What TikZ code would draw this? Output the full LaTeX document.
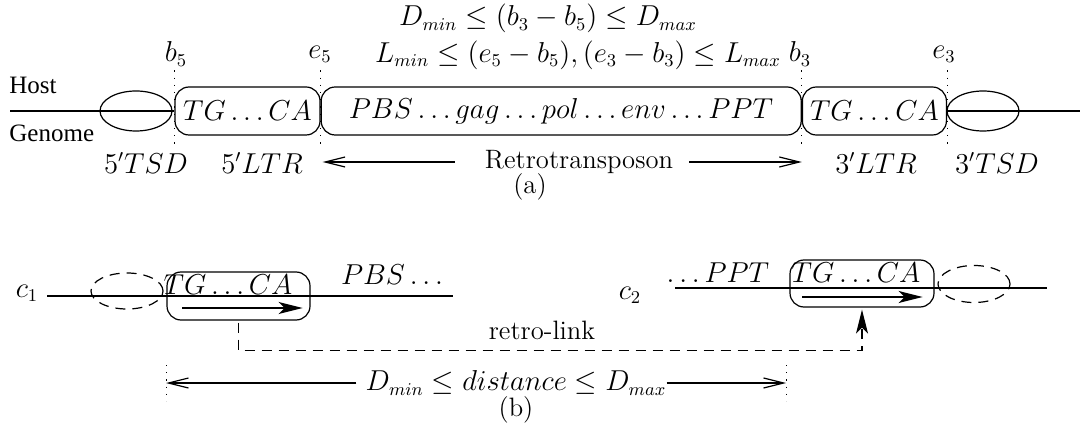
\documentclass[tikz,border=0pt]{standalone}
\usepackage{fontspec}
\usepackage{amsmath}
\usepackage{tikz}
\usetikzlibrary{arrows.meta,positioning,shapes.geometric}
\newfontfamily\hostfont{Liberation Serif}

\begin{document}
\begin{tikzpicture}[
x=0.5pt, y=-0.5pt,
every node/.style={font=\fontsize{13.3}{16}\selectfont, inner sep=1pt},
ltrbox/.style={rectangle, rounded corners=7pt, draw, line width=0.6pt, minimum height=24pt, inner sep=0pt},
tsd/.style={ellipse, draw, line width=0.6pt, minimum width=36pt, minimum height=20pt, inner sep=0pt},
tsdlink/.style={tsd, dash pattern=on 5pt off 3.5pt, minimum height=18pt},
hostline/.style={line width=1.1pt},
seqline/.style={line width=0.6pt},
boundary/.style={line width=0.5pt, dash pattern=on 0.6pt off 3pt},
span/.style={line width=0.6pt, -{Straight Barb[length=10pt,width=5pt]}},
dir/.style={line width=0.9pt, -{Stealth[length=12pt,width=6pt,inset=3pt]}},
link/.style={line width=0.6pt, dash pattern=on 5pt off 3.5pt, -{Stealth[length=12pt,width=6pt,inset=3pt]}},
hostlabel/.style={font=\hostfont\fontsize{12.5}{14}\selectfont, anchor=west},
formula/.style={inner sep=0pt}
]
\useasboundingbox (0,0) rectangle (1080,432);

% (a) Host genome with inserted retrotransposon

\node[formula] (dcond) at (548,18.5) {$D_{min} \leq (b_3 - b_5) \leq D_{max}$};
\node[formula] (lcond) at (578,55) {$L_{min} \leq (e_5 - b_5), (e_3 - b_3) \leq L_{max}$};

\node[hostlabel] (host) at (7,85) {Host};
\node[hostlabel] (genome) at (7,133) {Genome};

\node[ltrbox, minimum width=72.5pt] (ltr5) at (247.5,111) {$TG\ldots CA$};
\node[ltrbox, minimum width=240pt, right=0pt of ltr5] (body) {$PBS\ldots gag\ldots pol\ldots env\ldots PPT$};
\node[ltrbox, minimum width=72pt, right=0pt of body] (ltr3) {$TG\ldots CA$};

\node[tsd] (tsd5) at (136,111) {};
\node[tsd] (tsd3) at (983,111) {};

\coordinate (hostL) at (10,111);
\coordinate (hostR) at (1080,111);
\draw[hostline] (hostL) -- (ltr5.west);
\draw[hostline] (ltr3.east) -- (hostR);

% boundaries b5, e5, b3, e3

\node (b5) at (176,54) {$b_5$};
\node (e5) at (320,54) {$e_5$};
\node (b3) at (800,54) {$b_3$};
\node (e3) at (944,54) {$e_3$};

\draw[boundary] ([yshift=8pt]ltr5.north west) -- ([yshift=-6.5pt]ltr5.south west);
\draw[boundary] ([yshift=8pt]ltr5.north east) -- ([yshift=-6.5pt]ltr5.south east);
\draw[boundary] ([yshift=8pt]ltr3.north west) -- ([yshift=-6.5pt]ltr3.south west);
\draw[boundary] ([yshift=8pt]ltr3.north east) -- ([yshift=-6.5pt]ltr3.south east);

\node (tsd5lab) at (146,163) {$5'TSD$};
\node (ltr5lab) at (262,163) {$5'LTR$};
\node (ltr3lab) at (876,163) {$3'LTR$};
\node (tsd3lab) at (997,163) {$3'TSD$};

\node (retro) at (579,162) {Retrotransposon};
\draw[span] ([xshift=-14pt]retro.west) -- ([xshift=1pt]ltr5.east |- retro);
\draw[span] ([xshift=7pt]retro.east) -- (ltr3.west |- retro);

\node (capa) at (530,187) {(a)};

% (b) Two contigs joined by a retro-link

\node (c1) at (27,293) {$c_1$};
\coordinate (c1start) at (47,296);
\coordinate (c1end) at (453,296);
\draw[seqline] (c1start) -- (c1end);

\node[tsdlink] (tsdc1) at (127,291) {};
\node[ltrbox, minimum width=71.5pt] (ltrc1) at (238.5,296) {};
\node[anchor=base] (ltrc1txt) at (228,295) {$TG\ldots CA$};
\draw[dir] ([xshift=8pt,yshift=-6pt]ltrc1.west) -- ([xshift=-4pt,yshift=-6pt]ltrc1.east);
\node[anchor=base] (pbs) at (392,285) {$PBS\ldots$};

\node (c2) at (630,295) {$c_2$};
\coordinate (c2start) at (675,288);
\coordinate (c2end) at (1047,288);
\draw[seqline] (c2start) -- (c2end);

\node[anchor=base] (ppt) at (718,283) {$\ldots PPT$};
\node[ltrbox, minimum width=72pt, minimum height=23.5pt] (ltrc2) at (862,283.5) {};
\node[anchor=base] (ltrc2txt) at (856,283) {$TG\ldots CA$};
\draw[dir] ([xshift=6.5pt,yshift=-6.75pt]ltrc2.west) -- ([xshift=-6pt,yshift=-6.75pt]ltrc2.east);
\node[tsdlink, minimum height=18.5pt] (tsdc2) at (974,284) {};

\draw[link] ([yshift=-1pt]ltrc1.south) -- ++(0,28) -| ([yshift=-1pt]ltrc2.south);
\node (rlink) at (542,330) {retro-link};

% distance between the two LTR copies

\node (dist) at (516,383) {$D_{min} \leq distance \leq D_{max}$};
\coordinate (distL) at (166,383);
\coordinate (distR) at (786,383);
\draw[boundary] ([yshift=9pt]distL) -- ([yshift=-9pt]distL);
\draw[boundary] ([yshift=9pt]distR) -- ([yshift=-9pt]distR);
\draw[span] ([xshift=-3.5pt]dist.west) -- (distL);
\draw[span] ([xshift=-1pt]dist.east) -- (distR);

\node (capb) at (516,410) {(b)};

\end{tikzpicture}
\end{document}
